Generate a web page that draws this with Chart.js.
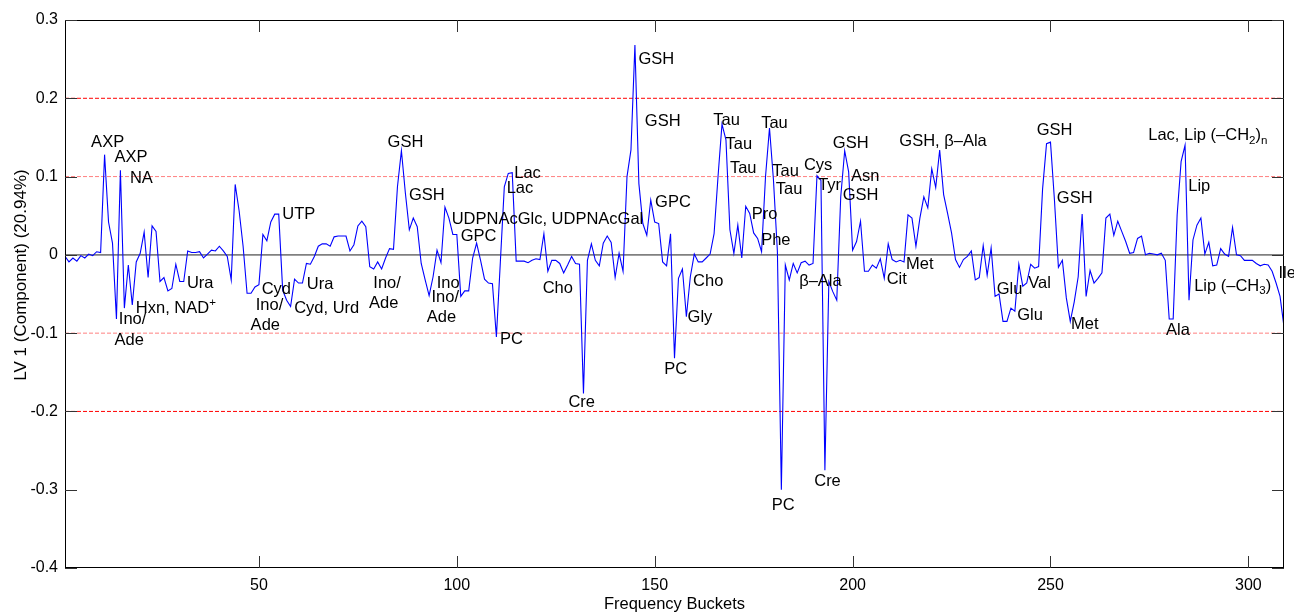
<!DOCTYPE html>
<html>
<head>
<meta charset="utf-8">
<script src="https://cdn.jsdelivr.net/npm/chart.js@4.4.0/dist/chart.umd.min.js"></script>
<style>
  html, body { margin: 0; padding: 0; background: #fff; }
  #wrap { width: 1294px; height: 614px; }
</style>
</head>
<body>
<div id="wrap"><canvas id="lvChart" width="1294" height="614"></canvas></div>
<script>
// frequency bucket numbers, 1..309
var buckets = [];
for (var i = 1; i <= 309; i++) buckets.push(i);

// LV 1 loadings
var lv1 = [
  -0.002, -0.009, -0.004, -0.008, -0.001, -0.004, 0.001, -0.001, 0.004, 0.003,
  0.128, 0.042, 0.015, -0.082, 0.108, -0.068, -0.013, -0.064, -0.009, 0.002,
  0.029, -0.029, 0.037, 0.030, -0.034, -0.029, -0.046, -0.043, -0.012, -0.034,
  -0.034, 0.005, 0.003, 0.003, 0.004, -0.004, 0.001, 0.006, 0.005, 0.011,
  0.005, -0.002, -0.032, 0.090, 0.056, 0.011, -0.049, -0.049, -0.041, -0.038,
  0.026, 0.018, 0.042, 0.052, 0.052, -0.045, -0.058, -0.066, -0.031, -0.036,
  -0.036, -0.011, -0.012, -0.002, 0.011, 0.014, 0.014, 0.011, 0.023, 0.024,
  0.024, 0.024, 0.005, 0.013, 0.037, 0.043, 0.036, -0.015, -0.018, -0.009,
  -0.018, -0.004, 0.008, 0.007, 0.087, 0.133, 0.079, 0.032, 0.047, 0.036,
  -0.011, -0.032, -0.052, -0.028, 0.006, -0.010, 0.061, 0.047, 0.026, 0.026,
  -0.053, -0.046, -0.046, -0.004, 0.015, -0.007, -0.031, -0.036, -0.037, -0.105,
  -0.009, 0.087, 0.104, 0.105, -0.008, -0.008, -0.008, -0.010, -0.007, -0.005,
  -0.006, 0.027, -0.021, -0.007, -0.007, -0.011, -0.023, -0.013, -0.002, -0.011,
  -0.012, -0.177, -0.007, 0.014, -0.007, -0.014, 0.015, 0.024, 0.016, -0.029,
  0.002, -0.021, 0.100, 0.134, 0.268, 0.091, 0.040, 0.025, 0.070, 0.042,
  0.040, -0.009, -0.014, 0.027, -0.132, -0.030, -0.018, -0.079, -0.028, 0.001,
  -0.009, -0.009, -0.004, 0.001, 0.027, 0.100, 0.167, 0.147, 0.032, 0.002,
  0.038, -0.004, 0.062, 0.053, 0.028, 0.021, 0.004, 0.100, 0.162, 0.096,
  0.004, -0.300, -0.013, -0.032, -0.011, -0.023, -0.010, -0.008, -0.013, -0.011,
  0.101, 0.095, -0.275, -0.034, -0.047, -0.058, 0.074, 0.133, 0.106, 0.006,
  0.017, 0.043, -0.021, -0.021, -0.013, -0.017, -0.005, -0.030, 0.014, -0.006,
  -0.009, -0.007, -0.009, 0.051, 0.047, 0.011, 0.047, 0.074, 0.060, 0.110,
  0.086, 0.134, 0.077, 0.053, 0.028, -0.006, -0.016, -0.006, -0.002, 0.005,
  -0.032, -0.029, 0.012, -0.026, 0.009, -0.053, -0.050, -0.085, -0.085, -0.068,
  -0.072, -0.012, -0.040, -0.036, -0.012, -0.017, -0.015, 0.084, 0.142, 0.144,
  0.070, -0.016, -0.007, -0.055, -0.085, -0.060, -0.028, 0.052, -0.053, -0.020,
  -0.036, -0.030, -0.023, 0.047, 0.052, 0.025, 0.043, 0.030, 0.017, 0.002,
  0.003, 0.021, 0.024, 0.000, 0.002, 0.001, 0.000, 0.002, -0.007, -0.082,
  -0.082, 0.051, 0.119, 0.140, -0.058, 0.019, 0.038, 0.047, 0.001, 0.016,
  -0.014, -0.013, 0.008, 0.001, -0.002, 0.035, 0.000, -0.001, -0.007, -0.007,
  -0.007, -0.011, -0.014, -0.012, -0.013, -0.021, -0.036, -0.053, -0.092
];

var xTicks = [50, 100, 150, 200, 250, 300];
var yTicks = [0.3, 0.2, 0.1, 0, -0.1, -0.2, -0.3, -0.4];
var outerLimits = [0.2, -0.2];
var innerLimits = [0.1, -0.1];

// metabolite assignments, anchored in data coordinates (left edge, middle of text)
var peakLabels = [
  ['AXP', 7.6, 0.143], ['AXP', 13.5, 0.125], ['NA', 17.4, 0.097],
  ['Ino/', 14.6, -0.083], ['Ade', 13.5, -0.109], ['Hxn, NAD^{+}', 18.9, -0.068],
  ['Ura', 31.8, -0.036], ['Cyd', 50.7, -0.044], ['Ino/', 49.2, -0.064],
  ['Ade', 47.9, -0.090], ['UTP', 55.9, 0.051], ['Ura', 62.1, -0.038],
  ['Cyd, Urd', 58.9, -0.068], ['GSH', 82.5, 0.143], ['GSH', 87.9, 0.076],
  ['Ino/', 78.9, -0.036], ['Ade', 77.8, -0.062], ['Ino', 94.9, -0.036],
  ['Ino/', 93.6, -0.055], ['Ade', 92.4, -0.080],
  ['UDPNAcGlc, UDPNAcGal', 98.7, 0.045], ['GPC', 101.0, 0.024],
  ['Lac', 114.5, 0.104], ['Lac', 112.6, 0.085], ['PC', 110.9, -0.108],
  ['Cho', 121.7, -0.043], ['Cre', 128.2, -0.188], ['GSH', 145.9, 0.249],
  ['GSH', 147.5, 0.170], ['GPC', 150.1, 0.067], ['PC', 152.4, -0.147],
  ['Tau', 164.8, 0.172], ['Tau', 167.9, 0.141], ['Tau', 169.0, 0.111],
  ['Tau', 176.9, 0.168], ['Tau', 179.7, 0.106], ['Tau', 180.6, 0.083],
  ['Cys', 187.7, 0.114], ['Tyr', 191.3, 0.089], ['Pro', 174.5, 0.051],
  ['Phe', 176.9, 0.019], ['Cho', 159.7, -0.034], ['Gly', 158.3, -0.080],
  ['\u03b2\u2013Ala', 186.5, -0.034], ['Cre', 190.3, -0.290], ['PC', 179.6, -0.320],
  ['GSH', 195.0, 0.142], ['Asn', 199.6, 0.100], ['GSH', 197.5, 0.076],
  ['GSH, \u03b2\u2013Ala', 211.8, 0.145], ['Met', 213.5, -0.012], ['Cit', 208.6, -0.032],
  ['GSH', 246.5, 0.159], ['GSH', 251.6, 0.072], ['Glu', 236.4, -0.044],
  ['Glu', 241.6, -0.077], ['Val', 244.4, -0.037], ['Met', 255.2, -0.089],
  ['Lac, Lip (\u2013CH_{2})_{n}', 274.7, 0.152], ['Lip', 284.8, 0.088],
  ['Lip (\u2013CH_{3})', 286.3, -0.040], ['Ala', 279.2, -0.096], ['Ile', 307.6, -0.024]
];

var FONT = '"Liberation Sans", Arial, Helvetica, sans-serif';

function drawRich(ctx, str, x, y, size) {
  var parts = str.split(/(\^\{[^}]*\}|_\{[^}]*\})/);
  var cx = x;
  parts.forEach(function (p) {
    if (!p) return;
    var dy = 0, sz = size, t = p;
    if (p[0] === '^') { t = p.slice(2, -1); sz = size * 0.7; dy = -size * 0.3; }
    else if (p[0] === '_') { t = p.slice(2, -1); sz = size * 0.7; dy = size * 0.3; }
    ctx.font = sz + 'px ' + FONT;
    ctx.fillText(t, cx, y + dy);
    cx += ctx.measureText(t).width;
  });
}

function hline(v, color, width, dash) {
  return {
    data: [{ x: buckets[0], y: v }, { x: buckets[buckets.length - 1], y: v }],
    borderColor: color, borderWidth: width, borderDash: dash,
    pointRadius: 0, fill: false, order: 2
  };
}

var frame = {
  id: 'frame',
  afterDatasetsDraw: function (chart) {
    var ctx = chart.ctx, a = chart.chartArea, xs = chart.scales.x, ys = chart.scales.y;
    ctx.save();
    ctx.strokeStyle = '#000';
    ctx.lineWidth = 1;
    ctx.strokeRect(a.left + 0.5, a.top + 0.5, a.right - a.left - 1, a.bottom - a.top - 1);
    ctx.strokeStyle = '#333';
    ctx.beginPath();
    yTicks.forEach(function (v) {
      var py = Math.round(ys.getPixelForValue(v)) + 0.5;
      ctx.moveTo(a.left, py); ctx.lineTo(a.left + 12, py);
      ctx.moveTo(a.right, py); ctx.lineTo(a.right - 12, py);
    });
    xTicks.forEach(function (v) {
      var px = Math.round(xs.getPixelForValue(v)) + 0.5;
      ctx.moveTo(px, a.bottom); ctx.lineTo(px, a.bottom - 12);
      ctx.moveTo(px, a.top); ctx.lineTo(px, a.top + 12);
    });
    ctx.stroke();

    ctx.fillStyle = '#000';
    ctx.textAlign = 'left';
    ctx.textBaseline = 'middle';
    peakLabels.forEach(function (l) {
      drawRich(ctx, l[0], xs.getPixelForValue(l[1]), ys.getPixelForValue(l[2]), 16.5);
    });

    ctx.font = '16.5px ' + FONT;
    ctx.textAlign = 'center';
    ctx.fillText('Frequency Buckets', (a.left + a.right) / 2, 604);
    ctx.translate(21, 275);
    ctx.rotate(-Math.PI / 2);
    ctx.font = '17px ' + FONT;
    ctx.fillText('LV 1 (Component) (20.94%)', 0, 0);
    ctx.restore();
  }
};

var points = buckets.map(function (b, k) { return { x: b, y: lv1[k] }; });

var datasets = [{
  data: points,
  borderColor: '#0000ff',
  borderWidth: 1.1,
  pointRadius: 0,
  tension: 0,
  fill: false,
  order: 1
}];
outerLimits.forEach(function (v) { datasets.push(hline(v, '#ff0000', 1, [4, 2])); });
innerLimits.forEach(function (v) { datasets.push(hline(v, '#ff8080', 1, [4, 2])); });
datasets.push(hline(0, '#808080', 1.6, []));

new Chart(document.getElementById('lvChart').getContext('2d'), {
  type: 'line',
  data: { datasets: datasets },
  options: {
    responsive: false,
    animation: false,
    layout: { padding: { top: 20, right: 10, left: 0, bottom: 0 } },
    plugins: { legend: { display: false }, tooltip: { enabled: false } },
    scales: {
      x: {
        type: 'linear', min: 1, max: 309,
        grid: { display: false, drawTicks: false }, border: { display: false },
        afterBuildTicks: function (s) { s.ticks = xTicks.map(function (v) { return { value: v }; }); },
        afterFit: function (s) { s.height = 46; },
        ticks: { font: { family: FONT, size: 16 }, color: '#000', padding: 8, maxRotation: 0, autoSkip: false }
      },
      y: {
        min: -0.4, max: 0.3,
        grid: { display: false, drawTicks: false }, border: { display: false },
        afterBuildTicks: function (s) { s.ticks = yTicks.map(function (v) { return { value: v }; }); },
        afterFit: function (s) { s.width = 65; },
        ticks: {
          font: { family: FONT, size: 16 }, color: '#000', padding: 7, autoSkip: false,
          callback: function (v) { return v === 0 ? '0' : v.toFixed(1); }
        }
      }
    }
  },
  plugins: [frame]
});
</script>
</body>
</html>
